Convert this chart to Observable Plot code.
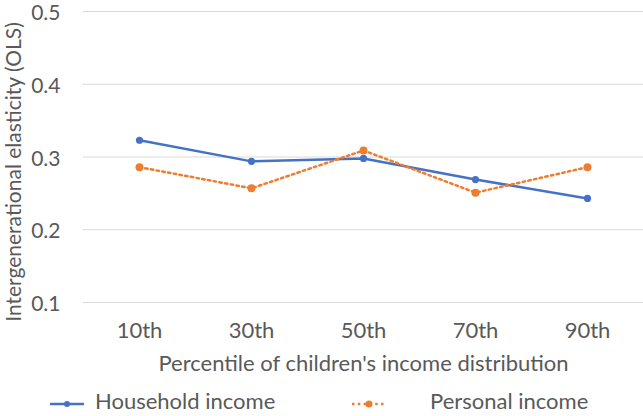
<!DOCTYPE html>
<html>
<head>
<meta charset="utf-8">
<script src="https://cdn.jsdelivr.net/npm/d3@7"></script>
<script src="https://cdn.jsdelivr.net/npm/@observablehq/plot@0.6"></script>
<style>
  body { margin: 0; background: #fff; }
  #wrap { position: relative; width: 643px; height: 416px; font-family: Lato, "Open Sans", sans-serif; color: #595959; }
  #legend { position: absolute; left: 0; top: 385px; width: 643px; height: 31px; font-size: 22px; }
  #legend .item { position: absolute; top: 0; height: 31px; display: flex; align-items: center; }
  #legend svg { display: block; }
</style>
</head>
<body>
<div id="wrap">
  <div id="chart"></div>
  <div id="legend"></div>
</div>
<script>
// Percentile groups of the children's income distribution
const percentiles = ["10th", "30th", "50th", "70th", "90th"];
// Intergenerational elasticity estimates (OLS)
const household = [0.323, 0.294, 0.298, 0.269, 0.243];
const personal = [0.286, 0.257, 0.309, 0.251, 0.286];
const yTicks = [0.1, 0.2, 0.3, 0.4, 0.5];

const seriesNames = ["Household income", "Personal income"];
const blue = "#4472C4";
const orange = "#ED7D31";
const textColor = "#595959";
const fontFamily = "Lato, 'Open Sans', sans-serif";

const rows = [
  ...percentiles.map((p, i) => ({percentile: p, value: household[i], series: seriesNames[0]})),
  ...percentiles.map((p, i) => ({percentile: p, value: personal[i], series: seriesNames[1]}))
];
const hh = rows.filter(d => d.series === seriesNames[0]);
const pi = rows.filter(d => d.series === seriesNames[1]);

const chart = Plot.plot({
  width: 643,
  height: 385,
  marginLeft: 83,
  marginRight: 0,
  marginTop: 11,
  marginBottom: 83,
  style: {fontFamily, color: textColor, background: "#fff", overflow: "visible"},
  x: {type: "point", domain: percentiles, padding: 0.5, label: null},
  y: {domain: [0.1, 0.5], label: null},
  marks: [
    Plot.ruleY(yTicks, {stroke: "#d9d9d9", strokeWidth: 1}),
    Plot.axisY({ticks: yTicks, tickSize: 0, tickPadding: 23, dy: 2, tickFormat: d3.format(".1f"), fontSize: 21, fill: textColor, label: null}),
    Plot.axisX({tickSize: 0, tickPadding: 20, fontSize: 22, fill: textColor, label: null}),
    Plot.text(["Intergenerational elasticity (OLS)"], {frameAnchor: "left", textAnchor: "middle", dx: -69, dy: 15, rotate: -90, fontSize: 21, fill: textColor}),
    Plot.text(["Percentile of children's income distribution"], {frameAnchor: "bottom", dy: 68, fontSize: 22, fill: textColor}),
    Plot.line(hh, {x: "percentile", y: "value", stroke: blue, strokeWidth: 2.5}),
    Plot.dot(hh, {x: "percentile", y: "value", r: 3.6, fill: blue, stroke: "none"}),
    Plot.line(pi, {x: "percentile", y: "value", stroke: orange, strokeWidth: 2.5, strokeDasharray: "2.5 3.3"}),
    Plot.dot(pi, {x: "percentile", y: "value", r: 4, fill: orange, stroke: "none"})
  ]
});
document.getElementById("chart").append(chart);

// Legend below the chart
const legend = d3.select("#legend");
const items = [
  {name: seriesNames[0], color: blue, dash: null, r: 3, swatchX: 50, textX: 95},
  {name: seriesNames[1], color: orange, dash: "2.5 3.3", r: 3.5, swatchX: 352, textX: 430}
];
for (const it of items) {
  const sw = legend.append("div").attr("class", "item").style("left", it.swatchX + "px");
  const s = sw.append("svg").attr("width", 36).attr("height", 31);
  s.append("line").attr("x1", 0).attr("x2", 34).attr("y1", 19).attr("y2", 19)
    .attr("stroke", it.color).attr("stroke-width", 2.5).attr("stroke-dasharray", it.dash);
  s.append("circle").attr("cx", 17).attr("cy", 19).attr("r", it.r).attr("fill", it.color);
  legend.append("div").attr("class", "item").style("left", it.textX + "px").text(it.name);
}
</script>
</body>
</html>
